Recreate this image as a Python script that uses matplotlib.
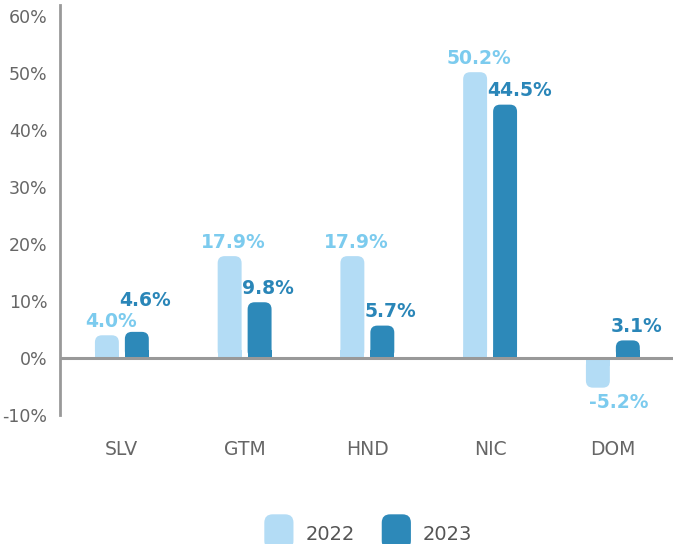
import matplotlib
matplotlib.use("Agg")
import matplotlib.pyplot as plt
import numpy as np
from matplotlib.patches import FancyBboxPatch, Rectangle
from matplotlib.legend_handler import HandlerPatch

countries = ["SLV", "GTM", "HND", "NIC", "DOM"]
years = ["2022", "2023"]
vals_2022 = [4.0, 17.9, 17.9, 50.2, -5.2]
vals_2023 = [4.6, 9.8, 5.7, 44.5, 3.1]
yticks = [-10, 0, 10, 20, 30, 40, 50, 60]

bar_colors = ["#b3dcf5", "#2d89b9"]
label_colors = ["#7ccbee", "#2a86b8"]
grey = "#999999"
text_grey = "#666666"

plt.rcParams["font.family"] = ["DejaVu Sans"]

fig = plt.figure(figsize=(6.73, 5.44), dpi=100)
ax = fig.add_axes([60 / 673, 1 - 415 / 544, 613 / 673, 410 / 544])

x = np.arange(len(countries))
width = 0.195
offset = 0.122

ax.set_xlim(-0.504, 4.49)
ax.set_ylim(-10, 62)

# aspect used to keep corner rounding circular in data units
px_x = 4.994 / 613
px_y = 72 / 410
aspect = px_y / px_x
radius = 7 * px_x


def rounded_bar(rect, color):
    x0, w = rect.get_x(), rect.get_width()
    h = rect.get_height()
    rect.set_visible(False)
    y0, y1 = min(0, h), max(0, h)
    ax.add_patch(FancyBboxPatch((x0, y0), w, y1 - y0,
                                boxstyle=f"round,pad=0,rounding_size={radius}",
                                mutation_aspect=aspect, fc=color, ec="none",
                                zorder=2))
    # square off the end sitting on the zero line
    sq = min(abs(h), 8 * px_y)
    ys = 0 if h >= 0 else -sq
    ax.add_patch(Rectangle((x0, ys), w, sq, fc=color, ec="none", zorder=2))


bars_a = ax.bar(x - offset, vals_2022, width, color=bar_colors[0])
bars_b = ax.bar(x + offset, vals_2023, width, color=bar_colors[1])
for r in bars_a:
    rounded_bar(r, bar_colors[0])
for r in bars_b:
    rounded_bar(r, bar_colors[1])

lab_font = dict(fontsize=13.5, fontweight="bold")
for i in range(len(countries)):
    a, b = vals_2022[i], vals_2023[i]
    if a >= 0:
        ax.annotate(f"{a:.1f}%", (x[i] - offset, a), xytext=(3, 3),
                    textcoords="offset points", ha="center", va="bottom",
                    color=label_colors[0], **lab_font)
    else:
        ax.annotate(f"{a:.1f}%", (x[i] - offset - width / 2, a), xytext=(2, -4),
                    textcoords="offset points", ha="left", va="top",
                    color=label_colors[0], **lab_font)
    dy = 3
    if a >= 0 and abs(a - b) < 2.5:
        dy = 16
    ax.annotate(f"{b:.1f}%", (x[i] + offset - width / 2, b), xytext=(-4, dy),
                textcoords="offset points", ha="left", va="bottom",
                color=label_colors[1], **lab_font)

ax.axhline(0, color=grey, lw=2.2, zorder=3)
ax.spines[["top", "right", "bottom"]].set_visible(False)
ax.spines["left"].set_color(grey)
ax.spines["left"].set_linewidth(2)

ax.set_yticks(yticks)
ax.set_yticklabels([f"{t}%" for t in yticks])
ax.set_xticks(x)
ax.set_xticklabels(countries)
ax.tick_params(axis="y", length=0, pad=9, labelsize=12.5, labelcolor=text_grey)
ax.tick_params(axis="x", length=0, pad=18, labelsize=13.5, labelcolor=text_grey)


class RoundHandler(HandlerPatch):
    def create_artists(self, legend, orig_handle, xdescent, ydescent,
                       width, height, fontsize, trans):
        p = FancyBboxPatch((-xdescent, -ydescent - 3), width, height + 8,
                           boxstyle="round,pad=0,rounding_size=6",
                           fc=orig_handle.get_facecolor(), ec="none",
                           transform=trans)
        return [p]


handles = [Rectangle((0, 0), 1, 1, fc=c) for c in bar_colors]
fig.legend(handles, years, loc="center", bbox_to_anchor=(0.547, 0.02),
           ncol=2, frameon=False, fontsize=14, labelcolor="#555555",
           handlelength=1.5, handleheight=1.5, handletextpad=0.6,
           columnspacing=1.4,
           handler_map={Rectangle: RoundHandler()})

fig.savefig("out.png", dpi=100)
